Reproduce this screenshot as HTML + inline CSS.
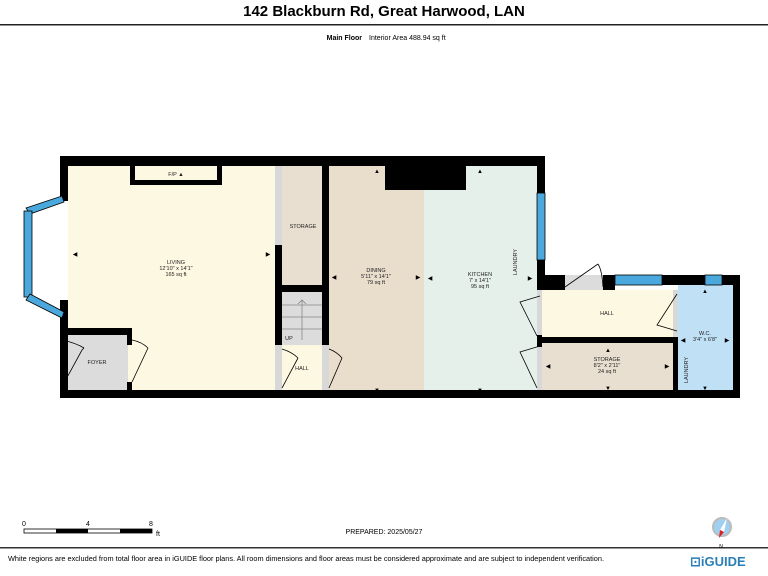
<!DOCTYPE html>
<html><head><meta charset="utf-8"><style>
html,body{margin:0;padding:0;background:#fff;}
svg{display:block;font-family:"Liberation Sans",sans-serif;}
</style></head><body>
<svg width="768" height="576" viewBox="0 0 768 576" xmlns="http://www.w3.org/2000/svg">
<text x="384" y="16" text-anchor="middle" font-size="15" font-weight="bold">142 Blackburn Rd, Great Harwood, LAN</text>
<rect x="0" y="24" width="768" height="1.5" fill="#222"/>
<text x="362" y="40" text-anchor="end" font-size="7" font-weight="bold">Main Floor</text>
<text x="369" y="40" font-size="7">Interior Area 488.94 sq ft</text>

<rect x="68" y="166" width="207" height="224" fill="#fdf8e1"/>
<rect x="60" y="335" width="68" height="55" fill="#dcdcdc"/>
<rect x="275" y="166" width="7" height="80" fill="#d8d8d8"/>
<rect x="282" y="166" width="40" height="119" fill="#e8dfd0"/>
<rect x="282" y="292" width="40" height="53" fill="#dcdcdc"/>
<g stroke="#888" stroke-width="0.8"><line x1="282" y1="305" x2="322" y2="305"/><line x1="282" y1="317" x2="322" y2="317"/><line x1="282" y1="329" x2="322" y2="329"/><line x1="302" y1="300" x2="302" y2="340"/><polyline points="298,304 302,300 306,304" fill="none"/></g>
<rect x="282" y="345" width="40" height="45" fill="#fdf8e1"/>
<rect x="275" y="345" width="7" height="45" fill="#d8d8d8"/>
<rect x="322" y="345" width="7" height="45" fill="#d8d8d8"/>
<rect x="329" y="166" width="95" height="224" fill="#e9ddcc"/>
<rect x="424" y="166" width="113" height="224" fill="#e6f0ea"/>
<rect x="537" y="290" width="5" height="100" fill="#d8d8d8"/>
<rect x="542" y="290" width="131" height="47" fill="#fdf8e1"/>
<rect x="542" y="343" width="131" height="47" fill="#e8dfd0"/>
<rect x="678" y="285" width="55" height="105" fill="#bfe0f5"/>
<rect x="673" y="290" width="5" height="47" fill="#d8d8d8"/>
<rect x="565" y="275" width="38" height="15" fill="#dcdcdc"/>

<g fill="#000">
<rect x="60" y="156" width="485" height="10"/>
<rect x="60" y="156" width="8" height="45"/>
<rect x="60" y="300" width="8" height="98"/>
<rect x="60" y="390" width="680" height="8"/>
<rect x="130" y="166" width="92" height="19"/>
<rect x="60" y="328" width="72" height="7"/>
<rect x="127" y="328" width="5" height="17"/>
<rect x="127" y="382" width="5" height="10"/>
<rect x="275" y="245" width="7" height="100"/>
<rect x="275" y="285" width="54" height="7"/>
<rect x="322" y="166" width="7" height="179"/>
<rect x="385" y="166" width="81" height="24"/>
<rect x="537" y="156" width="8" height="37"/>
<rect x="537" y="260" width="8" height="30"/>
<rect x="537" y="275" width="28" height="15"/>
<rect x="603" y="275" width="12" height="15"/>
<rect x="662" y="275" width="78" height="10"/>
<rect x="733" y="275" width="7" height="123"/>
<rect x="537" y="337" width="141" height="6"/>
<rect x="537" y="335" width="5" height="12"/>
<rect x="673" y="337" width="5" height="61"/>
</g>
<rect x="135" y="166" width="82" height="14" fill="#fdf8e1"/>
<g fill="#4aa8dc" stroke="#000" stroke-width="0.8">
<rect x="537" y="193" width="8" height="67"/>
<rect x="615" y="275" width="47" height="10"/>
<rect x="705" y="275" width="17" height="10"/>
<polygon points="26,208 62,196 64,202 30,214"/>
<rect x="24" y="211" width="8" height="86"/>
<polygon points="30,294 64,312 62,318 26,300"/>
</g>
<g fill="none" stroke="#000" stroke-width="0.8">
<polyline points="64,383 82,350 84,348"/><path d="M62,340 Q76,343 84,348"/>
<polyline points="132,382 148,348"/><path d="M132,340 Q142,342 148,348"/>
<polyline points="282,388 298,358"/><path d="M282,349 Q292,352 298,358"/>
<polyline points="329,388 342,358"/><path d="M329,349 Q337,352 342,358"/>
<polyline points="565,287 598,264"/><path d="M598,264 Q602,270 603,287"/>
<polyline points="537,336 520,302 540,296"/>
<polyline points="537,388 520,352 540,346"/>
<polyline points="677,294 657,325 677,331"/>
</g>

<g font-size="5.5" text-anchor="middle" fill="#222">
<text x="176" y="176">F/P ▲</text>
<text x="176" y="264">LIVING</text><text x="176" y="270">12'10" x 14'1"</text><text x="176" y="276">165 sq ft</text>
<text x="303" y="228">STORAGE</text>
<text x="289" y="340">UP</text>
<text x="302" y="370">HALL</text>
<text x="97" y="364">FOYER</text>
<text x="376" y="272">DINING</text><text x="376" y="278">5'11" x 14'1"</text><text x="376" y="284">79 sq ft</text>
<text x="480" y="276">KITCHEN</text><text x="480" y="282">7' x 14'1"</text><text x="480" y="288">95 sq ft</text>
<text x="607" y="315">HALL</text>
<text x="607" y="361">STORAGE</text><text x="607" y="367">8'2" x 2'11"</text><text x="607" y="373">24 sq ft</text>
<text x="705" y="335">W.C.</text><text x="705" y="341">3'4" x 6'8"</text>
<text transform="translate(517,262) rotate(-90)">LAUNDRY</text>
<text transform="translate(688,370) rotate(-90)">LAUNDRY</text>
</g>
<g font-size="6" text-anchor="middle">
<text x="75" y="256">◀</text><text x="268" y="256">▶</text><text x="185" y="395" fill="#000">▼</text>
<text x="334" y="279">◀</text><text x="418" y="279">▶</text><text x="430" y="280">◀</text><text x="530" y="280">▶</text>
<text x="377" y="173">▲</text><text x="480" y="173">▲</text><text x="377" y="392">▼</text><text x="480" y="392">▼</text>
<text x="608" y="352">▲</text><text x="608" y="390">▼</text><text x="548" y="368">◀</text><text x="667" y="368">▶</text>
<text x="705" y="293">▲</text><text x="705" y="390">▼</text><text x="683" y="342">◀</text><text x="727" y="342">▶</text>
</g>

<g font-size="7">
<text x="22" y="526">0</text><text x="86" y="526">4</text><text x="149" y="526">8</text><text x="156" y="536">ft</text>
</g>
<rect x="24" y="529" width="128" height="4" fill="#fff" stroke="#000" stroke-width="0.8"/>
<rect x="56" y="529" width="32" height="4" fill="#000"/>
<rect x="120" y="529" width="32" height="4" fill="#000"/>
<text x="384" y="534" text-anchor="middle" font-size="7">PREPARED: 2025/05/27</text>
<rect x="0" y="547" width="768" height="1.5" fill="#333"/>
<text x="8" y="561" font-size="7" textLength="596" lengthAdjust="spacingAndGlyphs">White regions are excluded from total floor area in iGUIDE floor plans. All room dimensions and floor areas must be considered approximate and are subject to independent verification.</text>
<circle cx="722" cy="527" r="9" fill="#9fd0f0" stroke="#bbb" stroke-width="2"/>
<polygon points="727,518 720,530 724,532" fill="#fff"/>
<polygon points="720,530 724,532 719,538" fill="#e02020"/>
<text x="721" y="548" font-size="5" text-anchor="middle">N</text>
<text x="690" y="566" font-size="13" font-weight="bold" fill="#2b7fb8">⊡iGUIDE</text>
</svg>
</body></html>
